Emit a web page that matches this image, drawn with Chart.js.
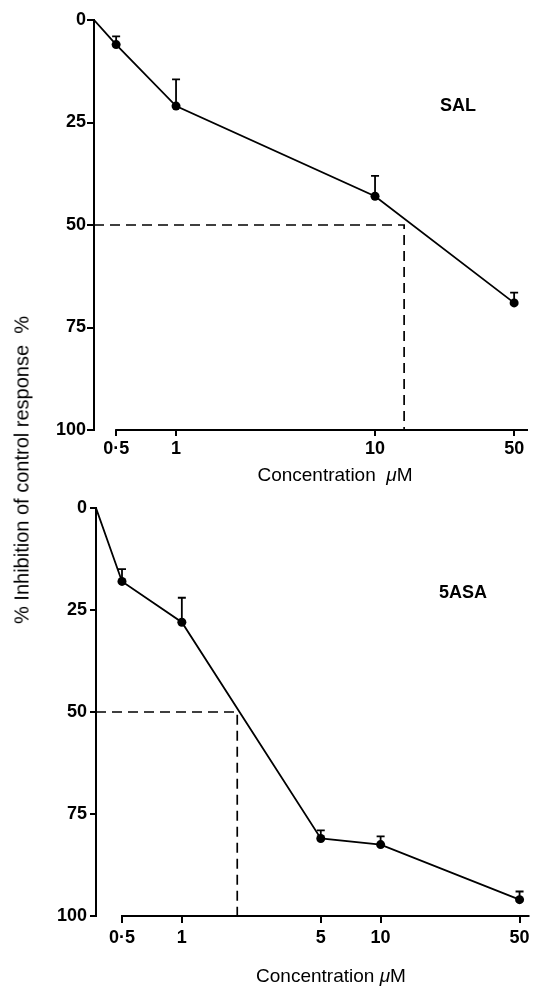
<!DOCTYPE html>
<html>
<head>
<meta charset="utf-8">
<script src="https://cdn.jsdelivr.net/npm/chart.js@4.4.0/dist/chart.umd.min.js"></script>
<style>
  html, body { margin: 0; padding: 0; background: #fff; }
  body { width: 534px; height: 986px; position: relative; overflow: hidden; font-family: "Liberation Sans", Arial, sans-serif; color: #000; }
  canvas { position: absolute; left: 0; }
  .lbl { position: absolute; transform: translate(-50%, -50%); white-space: nowrap; }
  .panel { font-weight: bold; font-size: 18px; }
  .xt { font-size: 19px; }
  .yt { font-size: 20px; transform: translate(-50%, -50%) rotate(-90deg); }
</style>
</head>
<body>
<canvas id="top" width="534" height="490" style="top:0"></canvas>
<canvas id="bot" width="534" height="496" style="top:490px"></canvas>
<div class="lbl panel" style="left:458px; top:105px">SAL</div>
<div class="lbl panel" style="left:463px; top:592px">5ASA</div>
<div class="lbl xt" style="left:335px; top:475px">Concentration&nbsp;&nbsp;<i>μ</i>M</div>
<div class="lbl xt" style="left:331px; top:976px">Concentration <i>μ</i>M</div>
<div class="lbl yt" style="left:22px; top:470px">% Inhibition of control response&nbsp;&nbsp;%</div>
<script>
// ---- data ----
const salConc   = [0.5, 1, 10, 50];
const salInhib  = [6, 21, 43, 69];
const salErrTop = [4, 14.5, 38, 66.5];
const salIC50   = 14;
const salXMin   = 0.387;
const salXMax   = 58.7;
const salTicks  = [0.5, 1, 10, 50];

const asaConc   = [0.5, 1, 5, 10, 50];
const asaInhib  = [18, 28, 81, 82.5, 96];
const asaErrTop = [15, 22, 79, 80.5, 94];
const asaIC50   = 1.9;
const asaXMin   = 0.37;
const asaXMax   = 56.1;
const asaTicks  = [0.5, 1, 5, 10, 50];

const yTicks    = [0, 25, 50, 75, 100];
const halfLevel = 50;

const FONT = '"Liberation Sans", Arial, sans-serif';

const errorBarPlugin = {
  id: 'errbars',
  afterDatasetsDraw(chart) {
    const xs = chart.scales.x, ys = chart.scales.y, ctx = chart.ctx;
    const o = chart.options.plugins.errbars;
    ctx.save();
    ctx.strokeStyle = '#000';
    ctx.lineWidth = 1.8;
    o.x.forEach((xv, i) => {
      const px = xs.getPixelForValue(xv);
      const p0 = ys.getPixelForValue(o.y[i]);
      const p1 = ys.getPixelForValue(o.top[i]);
      ctx.beginPath();
      ctx.moveTo(px, p0); ctx.lineTo(px, p1);
      ctx.moveTo(px - 4, p1); ctx.lineTo(px + 4, p1);
      ctx.stroke();
    });
    // x axis line starting at first tick
    const x0 = xs.getPixelForValue(o.ticks[0]) - 1;
    const yb = chart.chartArea.bottom;
    ctx.lineWidth = 2;
    ctx.beginPath();
    ctx.moveTo(x0, yb); ctx.lineTo(chart.chartArea.right, yb);
    ctx.stroke();
    ctx.restore();
  }
};

function makeChart(id, conc, inhib, errTop, ic50, xmin, xmax, ticks, lay) {
  const mainData = [{x: xmin, y: 0}].concat(conc.map((c, i) => ({x: c, y: inhib[i]})));
  const dashData = [{x: xmin, y: halfLevel}, {x: ic50, y: halfLevel}, {x: ic50, y: 100}];
  return new Chart(document.getElementById(id), {
    type: 'line',
    data: {
      datasets: [
        {
          data: mainData,
          borderColor: '#000',
          borderWidth: 1.8,
          backgroundColor: '#000',
          pointRadius: mainData.map((d, i) => i === 0 ? 0 : 4.5),
          pointBackgroundColor: '#000',
          pointBorderWidth: 0,
          tension: 0,
          fill: false
        },
        {
          data: dashData,
          borderColor: '#000',
          borderWidth: 1.7,
          borderDash: [10, 6],
          pointRadius: 0,
          tension: 0,
          fill: false
        }
      ]
    },
    options: {
      responsive: false,
      animation: false,
      events: [],
      layout: { padding: { top: lay.top, right: lay.right, left: 0, bottom: 0 } },
      plugins: {
        legend: { display: false },
        tooltip: { enabled: false },
        errbars: { x: conc, y: inhib, top: errTop, ticks: ticks }
      },
      scales: {
        x: {
          type: 'logarithmic',
          min: xmin, max: xmax,
          afterBuildTicks: s => { s.ticks = ticks.map(v => ({ value: v })); },
          afterFit: s => { s.height = lay.xh; },
          ticks: {
            autoSkip: false, maxRotation: 0, minRotation: 0,
            padding: lay.xpad,
            color: '#000',
            font: { family: FONT, size: 18, weight: 'bold' },
            callback: v => String(v).replace('.', '·')
          },
          grid: { drawOnChartArea: false, drawTicks: true, tickLength: lay.xtl, color: '#000', lineWidth: 2 },
          border: { display: false }
        },
        y: {
          type: 'linear',
          reverse: true,
          min: 0, max: 100,
          afterBuildTicks: s => { s.ticks = yTicks.map(v => ({ value: v })); },
          afterFit: s => { s.width = lay.yw; },
          ticks: {
            padding: lay.ypad,
            color: '#000',
            font: { family: FONT, size: 18, weight: 'bold' }
          },
          grid: { drawOnChartArea: false, drawTicks: true, tickLength: lay.ytl, color: '#000', lineWidth: 2 },
          border: { display: true, color: '#000', width: 2 }
        }
      }
    },
    plugins: [errorBarPlugin]
  });
}

makeChart('top', salConc, salInhib, salErrTop, salIC50, salXMin, salXMax, salTicks,
  { top: 20, right: 6, xh: 60, yw: 94, xtl: 6, xpad: 2, ytl: 7, ypad: 1 });
makeChart('bot', asaConc, asaInhib, asaErrTop, asaIC50, asaXMin, asaXMax, asaTicks,
  { top: 18, right: 4, xh: 70, yw: 96, xtl: 7, xpad: 4, ytl: 6, ypad: 3 });
</script>
</body>
</html>
